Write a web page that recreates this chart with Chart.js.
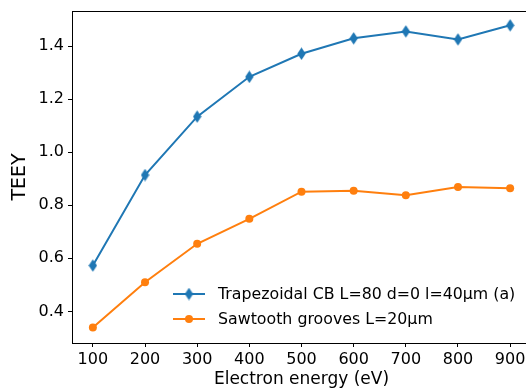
<!DOCTYPE html>
<html>
<head>
<meta charset="utf-8">
<script src="https://cdn.jsdelivr.net/npm/chart.js@4"></script>
<style>
html,body{margin:0;padding:0;overflow:hidden;background:#fff;width:526px;height:391px;}
#wrap{width:545px;height:391px;}
</style>
</head>
<body>
<div id="wrap"><canvas id="c" width="545" height="391"></canvas></div>
<script>
const energies = [100, 200, 300, 400, 500, 600, 700, 800, 900];
const trapezoidal = [0.573, 0.914, 1.134, 1.284, 1.371, 1.429, 1.455, 1.425, 1.478];
const sawtooth = [0.339, 0.510, 0.655, 0.749, 0.851, 0.855, 0.838, 0.869, 0.864];
const xTicks = [100, 200, 300, 400, 500, 600, 700, 800, 900];
const yTicks = [0.4, 0.6, 0.8, 1.0, 1.2, 1.4];
const seriesLabels = ['Trapezoidal CB L=80 d=0 l=40\u03bcm (a)', 'Sawtooth grooves L=20\u03bcm'];
const xTitle = 'Electron energy (eV)';
const yTitle = 'TEEY';

const BLUE = '#1f77b4', ORANGE = '#ff7f0e';
const FONT = "'DejaVu Sans', sans-serif";

function thinDiamond(color){
  const c = document.createElement('canvas');
  c.width = 9; c.height = 13;
  const g = c.getContext('2d');
  g.fillStyle = color;
  g.beginPath();
  g.moveTo(4.5, 0.3); g.lineTo(8.7, 6.5); g.lineTo(4.5, 12.7); g.lineTo(0.3, 6.5);
  g.closePath(); g.fill();
  return c;
}
const diamond = thinDiamond(BLUE);

const frame = {
  id: 'frame',
  afterDraw(chart){
    const {ctx, chartArea:a} = chart;
    ctx.save();
    ctx.strokeStyle = '#000';
    ctx.lineWidth = 1;
    ctx.beginPath();
    ctx.moveTo(a.left, a.top + 0.5); ctx.lineTo(a.right, a.top + 0.5);
    ctx.stroke();
    const rows = [294, 319];
    chart.data.datasets.forEach((ds, i) => {
      const y = rows[i];
      ctx.strokeStyle = ds.borderColor;
      ctx.lineWidth = 2;
      ctx.beginPath(); ctx.moveTo(173, y); ctx.lineTo(205, y); ctx.stroke();
      if (i === 0) {
        ctx.drawImage(diamond, 189 - diamond.width/2, y - diamond.height/2);
      } else {
        ctx.fillStyle = ds.backgroundColor;
        ctx.beginPath(); ctx.arc(189, y, 4, 0, Math.PI*2); ctx.fill();
      }
      ctx.fillStyle = '#000';
      ctx.font = '15.8px ' + FONT;
      ctx.textBaseline = 'middle';
      ctx.textAlign = 'left';
      ctx.fillText(ds.label, 218, y + 1);
    });
    ctx.restore();
  }
};

new Chart(document.getElementById('c'), {
  type: 'line',
  data: {
    datasets: [
      {
        label: seriesLabels[0],
        data: energies.map((x, i) => ({x, y: trapezoidal[i]})),
        borderColor: BLUE, backgroundColor: BLUE,
        borderWidth: 2, pointStyle: diamond, pointRadius: 5,
        tension: 0
      },
      {
        label: seriesLabels[1],
        data: energies.map((x, i) => ({x, y: sawtooth[i]})),
        borderColor: ORANGE, backgroundColor: ORANGE,
        borderWidth: 2, pointStyle: 'circle', pointRadius: 4, pointBorderWidth: 0,
        tension: 0
      }
    ]
  },
  options: {
    responsive: false,
    animation: false,
    devicePixelRatio: 1,
    layout: { padding: { top: 11, right: 14, left: 0, bottom: 0 } },
    plugins: { legend: { display: false }, tooltip: { enabled: false } },
    scales: {
      x: {
        type: 'linear', min: 60, max: 940,
        afterBuildTicks: s => { s.ticks = xTicks.map(v => ({value: v})); },
        afterFit: s => { s.height = 48; s.paddingLeft = 0; s.paddingRight = 0; },
        grid: { drawOnChartArea: false, drawTicks: true, tickLength: 4, color: '#000', tickWidth: 1 },
        border: { display: true, color: '#000', width: 1 },
        ticks: { color: '#000', font: { family: FONT, size: 16 }, padding: 3, maxRotation: 0, autoSkip: false },
        title: { display: true, text: xTitle, color: '#000', font: { family: FONT, size: 17 }, padding: { top: 0, bottom: 1 } }
      },
      y: {
        type: 'linear', min: 0.281, max: 1.532,
        afterBuildTicks: s => { s.ticks = yTicks.map(v => ({value: v})); },
        afterFit: s => { s.width = 72; s.paddingTop = 0; s.paddingBottom = 0; },
        grid: { drawOnChartArea: false, drawTicks: true, tickLength: 4, color: '#000', tickWidth: 1 },
        border: { display: true, color: '#000', width: 1 },
        ticks: { color: '#000', font: { family: FONT, size: 16 }, padding: 4, callback: v => v.toFixed(1) },
        title: { display: true, text: yTitle, color: '#000', font: { family: FONT, size: 19 }, padding: { top: 9, bottom: 0 } }
      }
    }
  },
  plugins: [frame]
});
</script>
</body>
</html>
